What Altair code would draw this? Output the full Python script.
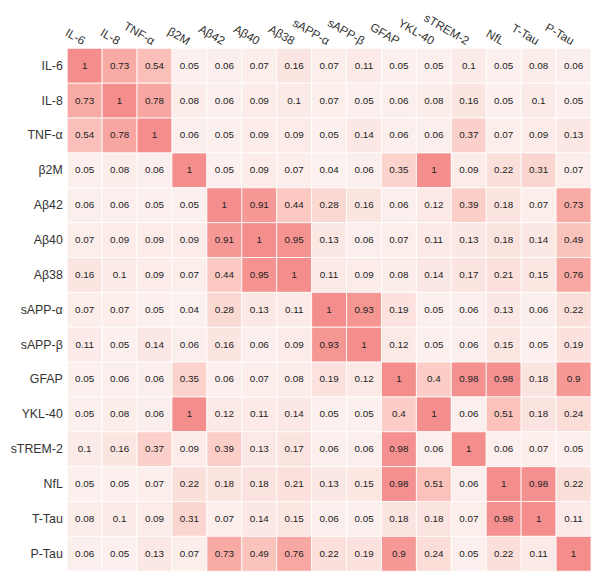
import altair as alt
import pandas as pd

labels = ["IL-6", "IL-8", "TNF-α", "β2M", "Aβ42", "Aβ40", "Aβ38", "sAPP-α",
          "sAPP-β", "GFAP", "YKL-40", "sTREM-2", "NfL", "T-Tau", "P-Tau"]

row_il6 = [1, 0.73, 0.54, 0.05, 0.06, 0.07, 0.16, 0.07, 0.11, 0.05, 0.05, 0.1, 0.05, 0.08, 0.06]
row_il8 = [0.73, 1, 0.78, 0.08, 0.06, 0.09, 0.1, 0.07, 0.05, 0.06, 0.08, 0.16, 0.05, 0.1, 0.05]
row_tnf = [0.54, 0.78, 1, 0.06, 0.05, 0.09, 0.09, 0.05, 0.14, 0.06, 0.06, 0.37, 0.07, 0.09, 0.13]
row_b2m = [0.05, 0.08, 0.06, 1, 0.05, 0.09, 0.07, 0.04, 0.06, 0.35, 1, 0.09, 0.22, 0.31, 0.07]
row_ab42 = [0.06, 0.06, 0.05, 0.05, 1, 0.91, 0.44, 0.28, 0.16, 0.06, 0.12, 0.39, 0.18, 0.07, 0.73]
row_ab40 = [0.07, 0.09, 0.09, 0.09, 0.91, 1, 0.95, 0.13, 0.06, 0.07, 0.11, 0.13, 0.18, 0.14, 0.49]
row_ab38 = [0.16, 0.1, 0.09, 0.07, 0.44, 0.95, 1, 0.11, 0.09, 0.08, 0.14, 0.17, 0.21, 0.15, 0.76]
row_sappa = [0.07, 0.07, 0.05, 0.04, 0.28, 0.13, 0.11, 1, 0.93, 0.19, 0.05, 0.06, 0.13, 0.06, 0.22]
row_sappb = [0.11, 0.05, 0.14, 0.06, 0.16, 0.06, 0.09, 0.93, 1, 0.12, 0.05, 0.06, 0.15, 0.05, 0.19]
row_gfap = [0.05, 0.06, 0.06, 0.35, 0.06, 0.07, 0.08, 0.19, 0.12, 1, 0.4, 0.98, 0.98, 0.18, 0.9]
row_ykl = [0.05, 0.08, 0.06, 1, 0.12, 0.11, 0.14, 0.05, 0.05, 0.4, 1, 0.06, 0.51, 0.18, 0.24]
row_strem = [0.1, 0.16, 0.37, 0.09, 0.39, 0.13, 0.17, 0.06, 0.06, 0.98, 0.06, 1, 0.06, 0.07, 0.05]
row_nfl = [0.05, 0.05, 0.07, 0.22, 0.18, 0.18, 0.21, 0.13, 0.15, 0.98, 0.51, 0.06, 1, 0.98, 0.22]
row_ttau = [0.08, 0.1, 0.09, 0.31, 0.07, 0.14, 0.15, 0.06, 0.05, 0.18, 0.18, 0.07, 0.98, 1, 0.11]
row_ptau = [0.06, 0.05, 0.13, 0.07, 0.73, 0.49, 0.76, 0.22, 0.19, 0.9, 0.24, 0.05, 0.22, 0.11, 1]

rows = [row_il6, row_il8, row_tnf, row_b2m, row_ab42, row_ab40, row_ab38, row_sappa,
        row_sappb, row_gfap, row_ykl, row_strem, row_nfl, row_ttau, row_ptau]

records = []
for i, r in enumerate(rows):
    for j, v in enumerate(r):
        records.append({"row": labels[i], "col": labels[j], "value": v,
                        "text": f"{v:g}"})
df = pd.DataFrame(records)

x = alt.X("col:N", sort=labels, title=None,
          axis=alt.Axis(orient="top", labelAngle=30, labelAlign="right",
                        labelBaseline="bottom", labelFontSize=12,
                        labelFont="Liberation Sans", labelColor="#333333",
                        ticks=False, domain=False, labelPadding=1, labelOffset=-4))
y = alt.Y("row:N", sort=labels, title=None,
          axis=alt.Axis(labelFontSize=12.5, labelFont="Liberation Sans",
                        labelColor="#333333", ticks=False, domain=False,
                        labelPadding=5))

base = alt.Chart(df)
rect = base.mark_rect(stroke="white", strokeWidth=0.8).encode(
    x=x, y=y,
    color=alt.Color("value:Q", legend=None,
                    scale=alt.Scale(domain=[0.04, 1], range=["#fbf1ef", "#f48e8d"]))
)
text = base.mark_text(fontSize=10, font="Liberation Sans", color="#222222").encode(
    x=alt.X("col:N", sort=labels), y=alt.Y("row:N", sort=labels), text="text:N")

chart = (rect + text).properties(
    width=531, height=530,
    autosize=alt.AutoSizeParams(type="none"),
    padding={"left": 60, "top": 37, "right": 1, "bottom": 6},
).configure_view(stroke=None)

chart.save("out.html", embed_options={"renderer": "svg", "actions": False})
